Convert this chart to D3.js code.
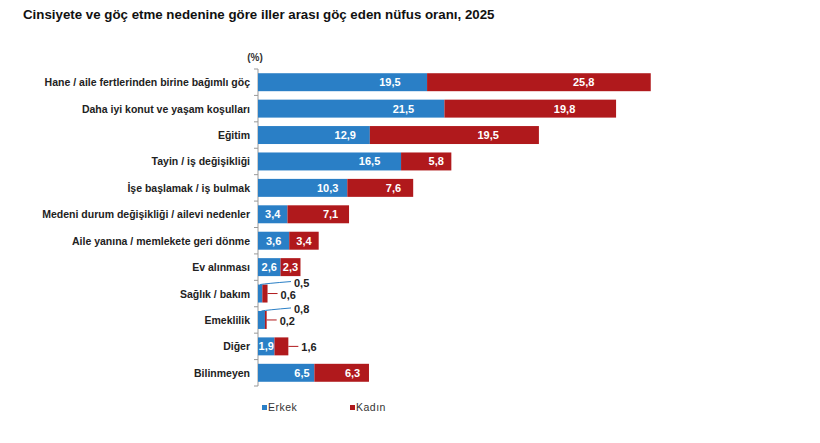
<!DOCTYPE html>
<html>
<head>
<meta charset="utf-8">
<script src="https://cdn.jsdelivr.net/npm/d3@7"></script>
<style>
  body { margin: 0; background: #fff; }
  text { font-family: Arial, "Liberation Sans", sans-serif; }
</style>
</head>
<body>
<div id="chart"></div>
<script>
const categories = [
    'Hane / aile fertlerinden birine bağımlı göç',
    'Daha iyi konut ve yaşam koşulları',
    'Eğitim',
    'Tayin / iş değişikliği',
    'İşe başlamak / iş bulmak',
    'Medeni durum değişikliği / ailevi nedenler',
    'Aile yanına / memlekete geri dönme',
    'Ev alınması',
    'Sağlık / bakım',
    'Emeklilik',
    'Diğer',
    'Bilinmeyen'
]
const erkek = [19.5, 21.5, 12.9, 16.5, 10.3, 3.4, 3.6, 2.6, 0.5, 0.8, 1.9, 6.5]
const kadin = [25.8, 19.8, 19.5, 5.8, 7.6, 7.1, 3.4, 2.3, 0.6, 0.2, 1.6, 6.3]
const seriesNames = ['Erkek', 'Kadın']
const colors = ['#2a7fc6', '#b0191c']

const width = 820
const height = 443
const svg = d3.select('#chart')
    .append('svg')
    .attr('width', width)
    .attr('height', height)

const left = 258

// title
svg.append('text')
    .text('Cinsiyete ve göç etme nedenine göre iller arası göç eden nüfus oranı, 2025')
    .attr('x', 23)
    .attr('y', 19)
    .attr('font-size', 13.3)
    .attr('font-weight', 'bold')
    .attr('fill', '#111')

svg.append('text')
    .text('(%)')
    .attr('x', 255)
    .attr('y', 61)
    .attr('text-anchor', 'middle')
    .attr('font-size', 10)
    .attr('font-weight', 'bold')
    .attr('fill', '#333')

const xScale = d3.scaleLinear()
    .domain([0, 50])
    .range([left, left + 50 * 8.67])

const yScale = d3.scaleBand()
    .domain(categories)
    .range([69, 386])
    .paddingInner(0.32)
    .paddingOuter(0.16)

// axis line + ticks
const tickYs = d3.range(categories.length + 1).map(i => 69 + i * (317 / categories.length))
svg.append('line')
    .attr('x1', left).attr('x2', left)
    .attr('y1', 69).attr('y2', 386)
    .attr('stroke', '#999')
svg.selectAll('.tick')
    .data(tickYs)
    .enter()
    .append('line')
    .attr('x1', left - 4).attr('x2', left)
    .attr('y1', d => d).attr('y2', d => d)
    .attr('stroke', '#999')

// category labels
svg.selectAll('.cat')
    .data(categories)
    .enter()
    .append('text')
    .text(d => d)
    .attr('x', 250)
    .attr('y', d => yScale(d) + yScale.bandwidth() / 2 + 4)
    .attr('text-anchor', 'end')
    .attr('font-size', 10.5)
    .attr('font-weight', 'bold')
    .attr('fill', '#222')

const rows = categories.map((c, i) => ({ c, e: erkek[i], k: kadin[i] }))

// bars
rows.forEach(r => {
    const y = yScale(r.c)
    const h = yScale.bandwidth()
    svg.append('rect')
        .attr('x', xScale(0))
        .attr('y', y)
        .attr('width', xScale(r.e) - xScale(0))
        .attr('height', h)
        .attr('fill', colors[0])
    svg.append('rect')
        .attr('x', xScale(r.e))
        .attr('y', y)
        .attr('width', xScale(r.e + r.k) - xScale(r.e))
        .attr('height', h)
        .attr('fill', colors[1])
})

const fmt = v => d3.format('.1f')(v).replace('.', ',')

// data labels
rows.forEach(r => {
    const yMid = yScale(r.c) + yScale.bandwidth() / 2
    const segs = [
        { v: r.e, x0: xScale(0), x1: xScale(r.e), col: colors[0] },
        { v: r.k, x0: xScale(r.e), x1: xScale(r.e + r.k), col: colors[1] }
    ]
    segs.forEach((s, j) => {
        const w = s.x1 - s.x0
        if (w >= 14) {
            const f = w < 32 ? 0.5 : (j === 0 ? 0.78 : 0.7)
            svg.append('text')
                .text(fmt(s.v))
                .attr('x', s.x0 + w * f)
                .attr('y', yMid + 4)
                .attr('text-anchor', 'middle')
                .attr('font-size', 11)
                .attr('font-weight', 'bold')
                .attr('fill', '#fff')
        } else {
            // outside labels with leader lines
            let lx, ly, path
            if (r.e + r.k < 3 && j === 0) {
                // label above right, curved leader from top of blue part
                lx = xScale(0) + 36
                ly = yMid - 7
                const sx = (s.x0 + s.x1) / 2
                path = `M${sx},${yMid - 9} Q${sx + 6},${ly - 3} ${lx - 3},${ly - 5}`
            } else {
                lx = s.x1 + 13
                ly = yMid + 5
                path = `M${s.x1},${yMid} L${lx - 3},${yMid}`
            }
            svg.append('path')
                .attr('d', path)
                .attr('fill', 'none')
                .attr('stroke', s.col)
                .attr('stroke-width', 1)
            svg.append('text')
                .text(fmt(s.v))
                .attr('x', lx)
                .attr('y', ly)
                .attr('font-size', 11)
                .attr('font-weight', 'bold')
                .attr('fill', '#222')
        }
    })
})

// legend
seriesNames.forEach((name, i) => {
    const lx = 262 + i * 88
    svg.append('rect')
        .attr('x', lx)
        .attr('y', 405)
        .attr('width', 5)
        .attr('height', 5)
        .attr('fill', colors[i])
    svg.append('text')
        .text(name)
        .attr('x', lx + 6)
        .attr('y', 411)
        .attr('font-size', 10.5)
        .attr('letter-spacing', 0.5)
        .attr('fill', '#333')
})
</script>
</body>
</html>
